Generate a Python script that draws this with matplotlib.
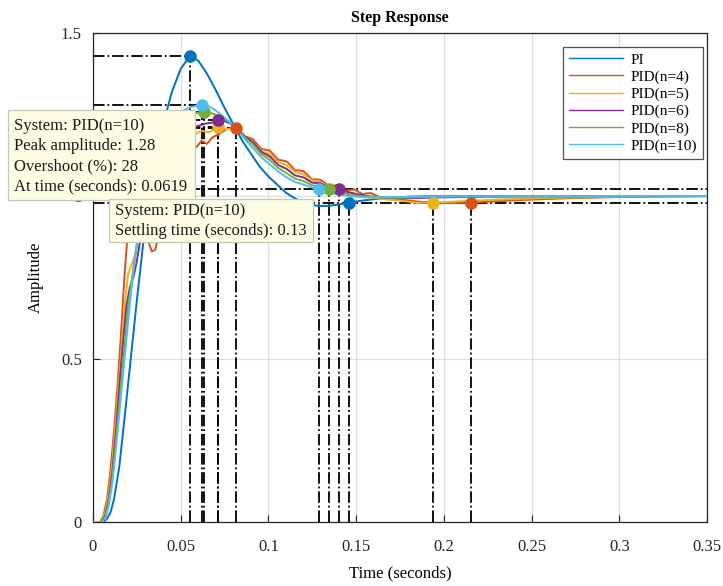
import matplotlib
matplotlib.use("Agg")
import matplotlib.pyplot as plt
from matplotlib.patches import Rectangle

plt.rcParams['font.family'] = ['Liberation Serif', 'DejaVu Serif']

# ---- data ----
names = ['PI', 'PID(n=4)', 'PID(n=5)', 'PID(n=6)', 'PID(n=8)', 'PID(n=10)']
colors = ['#0072BD', '#D95319', '#EDB120', '#7E2F8E', '#77AC30', '#4DBEEE']

t_pi = [0, 0.006, 0.008, 0.010, 0.012, 0.015, 0.018, 0.0215, 0.025, 0.030, 0.035, 0.040,
        0.045, 0.050, 0.0553, 0.060, 0.065, 0.070, 0.075, 0.080, 0.085, 0.090, 0.095, 0.100,
        0.105, 0.110, 0.115, 0.120, 0.125, 0.130, 0.135, 0.140, 0.146, 0.155, 0.165, 0.180,
        0.200, 0.350]
y_pi = [0, 0, 0.01, 0.03, 0.07, 0.17, 0.32, 0.50, 0.68, 0.92, 1.07, 1.22,
        1.32, 1.39, 1.43, 1.415, 1.375, 1.325, 1.27, 1.22, 1.17, 1.13, 1.09, 1.06,
        1.035, 1.01, 0.993, 0.98, 0.972, 0.969, 0.97, 0.974, 0.98, 0.987, 0.993, 0.998,
        1.0, 1.0]

t_n4 = [0, 0.004, 0.006, 0.008, 0.010, 0.012, 0.014, 0.016, 0.018, 0.020, 0.022, 0.025,
        0.028, 0.031, 0.0335, 0.0355, 0.037, 0.040, 0.044, 0.048, 0.052, 0.056, 0.059,
        0.062, 0.065, 0.068, 0.072, 0.076,
        0.0816, 0.0840, 0.0864, 0.0888, 0.0912, 0.0936, 0.0960, 0.0984, 0.1008, 0.1032,
        0.1056, 0.1080, 0.1104, 0.1128, 0.1152, 0.1176, 0.1200, 0.1224, 0.1248, 0.1272,
        0.1296, 0.1320, 0.1344, 0.1368, 0.1392, 0.1416, 0.1440, 0.1464, 0.1488, 0.1512,
        0.1536, 0.1560, 0.1584, 0.1608, 0.1632,
        0.168, 0.176, 0.185, 0.195, 0.205, 0.2155, 0.230, 0.250, 0.270, 0.300, 0.350]
y_n4 = [0, 0, 0.02, 0.07, 0.16, 0.28, 0.42, 0.58, 0.76, 0.90, 0.98, 1.0,
        0.95, 0.87, 0.83, 0.835, 0.87, 0.96, 1.06, 1.12, 1.15, 1.16, 1.15,
        1.17, 1.16, 1.18, 1.19, 1.205,
        1.209, 1.197, 1.184, 1.179, 1.174, 1.159, 1.144, 1.142, 1.139, 1.125,
        1.111, 1.109, 1.106, 1.093, 1.079, 1.078, 1.076, 1.064, 1.051, 1.051,
        1.050, 1.041, 1.031, 1.032, 1.033, 1.025, 1.016, 1.018, 1.020, 1.013,
        1.006, 1.008, 1.009, 1.003, 0.997,
        0.994, 0.988, 0.983, 0.979, 0.978, 0.980, 0.984, 0.989, 0.993, 0.997, 0.999]

t_n5 = [0, 0.0045, 0.007, 0.009, 0.011, 0.013, 0.0158, 0.018, 0.020, 0.022, 0.024, 0.026,
        0.029, 0.033, 0.038, 0.043, 0.048, 0.053, 0.058, 0.062, 0.066, 0.071, 0.076,
        0.0816, 0.0864, 0.0912, 0.0960, 0.1008, 0.1056, 0.1104, 0.1152, 0.1200, 0.1248,
        0.1296, 0.1344, 0.1392, 0.1440, 0.1488, 0.1536, 0.160, 0.168, 0.176, 0.185, 0.194,
        0.200, 0.210, 0.230, 0.260, 0.300, 0.350]
y_n5 = [0, 0, 0.03, 0.09, 0.18, 0.31, 0.50, 0.66, 0.76, 0.79, 0.82, 0.88,
        0.97, 1.06, 1.13, 1.17, 1.19, 1.195, 1.19, 1.20, 1.195, 1.212, 1.205,
        1.209, 1.180, 1.166, 1.138, 1.128, 1.104, 1.094, 1.074, 1.066, 1.048,
        1.043, 1.028, 1.024, 1.012, 1.008, 0.999, 0.994, 0.989, 0.985, 0.979, 0.980,
        0.981, 0.984, 0.989, 0.994, 0.998, 1.0]

t_n6 = [0, 0.005, 0.007, 0.009, 0.011, 0.013, 0.0163, 0.019, 0.021, 0.023, 0.025, 0.028,
        0.032, 0.037, 0.042, 0.048, 0.054, 0.060, 0.064, 0.068, 0.0713, 0.076,
        0.0816, 0.0864, 0.0912, 0.0960, 0.1008, 0.1056, 0.1104, 0.1152, 0.1200, 0.1248,
        0.1296, 0.1344, 0.1392, 0.1400, 0.144, 0.150, 0.156, 0.165, 0.180, 0.200, 0.250,
        0.350]
y_n6 = [0, 0, 0.02, 0.07, 0.15, 0.27, 0.50, 0.66, 0.72, 0.75, 0.80, 0.90,
        1.02, 1.11, 1.16, 1.195, 1.21, 1.215, 1.222, 1.225, 1.233, 1.228,
        1.213, 1.183, 1.165, 1.135, 1.121, 1.095, 1.083, 1.063, 1.057, 1.041,
        1.039, 1.026, 1.022, 1.020, 1.014, 1.006, 1.0, 0.995, 0.993, 0.996, 0.999,
        1.0]

t_n8 = [0, 0.005, 0.007, 0.009, 0.011, 0.013, 0.0173, 0.020, 0.023, 0.026, 0.030, 0.035,
        0.040, 0.045, 0.050, 0.055, 0.063, 0.067, 0.072, 0.077,
        0.0816, 0.0864, 0.0912, 0.0960, 0.1008, 0.1056, 0.1104, 0.1152, 0.1200, 0.1248,
        0.1296, 0.1345, 0.140, 0.146, 0.152, 0.160, 0.175, 0.200, 0.350]
y_n8 = [0, 0, 0.015, 0.06, 0.13, 0.24, 0.50, 0.66, 0.78, 0.88, 1.0, 1.10,
        1.17, 1.21, 1.235, 1.25, 1.258, 1.255, 1.245, 1.23,
        1.212, 1.180, 1.158, 1.128, 1.110, 1.086, 1.070, 1.053, 1.046, 1.033,
        1.029, 1.020, 1.013, 1.005, 1.0, 0.996, 0.995, 0.998, 1.0]

t_n10 = [0, 0.005, 0.007, 0.009, 0.011, 0.013, 0.018, 0.021, 0.025, 0.030, 0.035, 0.040,
         0.045, 0.050, 0.055, 0.0619, 0.066, 0.070, 0.075,
         0.0816, 0.0864, 0.0912, 0.0960, 0.1008, 0.1056, 0.1104, 0.1152, 0.1200, 0.1248,
         0.129, 0.134, 0.140, 0.146, 0.155, 0.170, 0.200, 0.350]
y_n10 = [0, 0, 0.01, 0.05, 0.12, 0.22, 0.50, 0.67, 0.86, 1.03, 1.14, 1.20,
         1.235, 1.258, 1.272, 1.28, 1.275, 1.262, 1.24,
         1.207, 1.175, 1.147, 1.118, 1.097, 1.075, 1.057, 1.043, 1.035, 1.026,
         1.020, 1.012, 1.005, 1.0, 0.996, 0.996, 0.999, 1.0]

times = [t_pi, t_n4, t_n5, t_n6, t_n8, t_n10]
amps = [y_pi, y_n4, y_n5, y_n6, y_n8, y_n10]

# peak response (time, amplitude) and settling time (time, amplitude)
peak_t = [0.0553, 0.0816, 0.071, 0.0713, 0.063, 0.0619]
peak_a = [1.43, 1.209, 1.212, 1.233, 1.258, 1.28]
settle_t = [0.146, 0.2155, 0.194, 0.140, 0.1345, 0.129]
settle_a = [0.98, 0.98, 0.98, 1.02, 1.02, 1.02]
band = [0.98, 1.02]

# ---- figure ----
W, H = 723, 586
fig = plt.figure(figsize=(W / 100, H / 100), dpi=100)
ax = fig.add_axes([93 / W, 1 - 522 / H, (707 - 93) / W, (522 - 33) / H])

dash = dict(color='black', linestyle='-.', linewidth=1.3, zorder=2)
for b in band:
    ax.plot([0, 0.35], [b, b], **dash)
for tp, ap in zip(peak_t, peak_a):
    ax.plot([0, tp], [ap, ap], **dash)
    ax.plot([tp, tp], [0, ap], **dash)
for ts, a_s in zip(settle_t, settle_a):
    ax.plot([ts, ts], [0, a_s], **dash)

for t, y, c, n in zip(times, amps, colors, names):
    ax.plot(t, y, color=c, linewidth=1.4, label=n, zorder=3)

for i in range(len(names)):
    ax.plot(peak_t[i], peak_a[i], 'o', color=colors[i], markersize=8, zorder=4)
    ax.plot(settle_t[i], settle_a[i], 'o', color=colors[i], markersize=8, zorder=4)

ax.set_xlim(0, 0.35)
ax.set_ylim(0, 1.5)
ax.set_xticks([0, 0.05, 0.1, 0.15, 0.2, 0.25, 0.3, 0.35])
ax.set_xticklabels(['0', '0.05', '0.1', '0.15', '0.2', '0.25', '0.3', '0.35'])
ax.set_yticks([0, 0.5, 1, 1.5])
ax.set_yticklabels(['0', '0.5', '1', '1.5'])
ax.grid(True, color='#dedede', linewidth=0.9, zorder=0)
ax.set_axisbelow(True)
ax.tick_params(axis='x', direction='in', length=5, labelsize=12, colors='#262626', pad=12)
ax.tick_params(axis='y', direction='in', length=5, labelsize=12, colors='#262626', pad=8)
for s in ax.spines.values():
    s.set_color('#262626')
    s.set_linewidth(0.9)

ax.set_title('Step Response', fontsize=11.5, fontweight='bold', pad=8)
ax.set_xlabel('Time (seconds)', fontsize=12, labelpad=8)
ax.set_ylabel('Amplitude', fontsize=12, labelpad=12)

leg = ax.legend(loc='upper right', bbox_to_anchor=(0.9935, 0.9714), borderaxespad=0,
                fontsize=11, frameon=True, fancybox=False, handlelength=3.5,
                borderpad=0.4, labelspacing=0.22, handletextpad=0.5)
leg.get_frame().set_edgecolor('#262626')
leg.get_frame().set_linewidth(0.9)
for h in leg.get_lines():
    h.set_linewidth(1.0)


# ---- data tips ----
def tip(x0, y0, x1, y1, lines, tx, ty0, dy):
    fig.add_artist(Rectangle((x0 / W, 1 - y1 / H), (x1 - x0) / W, (y1 - y0) / H,
                             transform=fig.transFigure, facecolor='#fdfde6',
                             edgecolor='#c8c8b4', linewidth=0.9, zorder=10))
    for k, s in enumerate(lines):
        fig.text(tx / W, 1 - (ty0 + k * dy) / H, s, fontsize=12, va='center',
                 ha='left', color='#1a1a1a', zorder=11)


tip(8, 110, 195, 200,
    ['System: PID(n=10)', 'Peak amplitude: 1.28', 'Overshoot (%): 28',
     'At time (seconds): 0.0619'], 14, 126, 20)
tip(109, 199, 313, 242,
    ['System: PID(n=10)', 'Settling time (seconds): 0.13'], 115, 211, 20)

fig.savefig('out.png', dpi=100)
